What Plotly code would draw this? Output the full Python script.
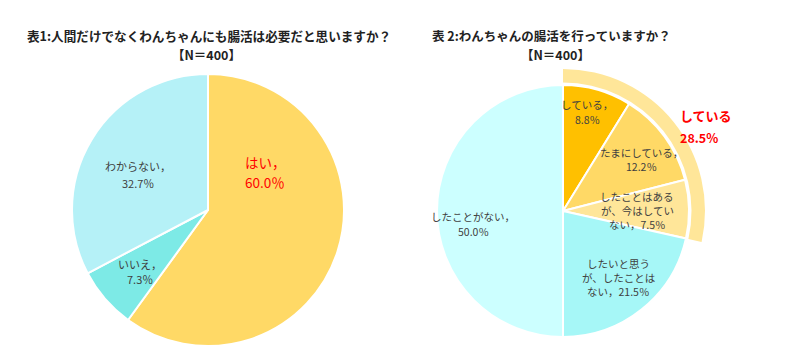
import plotly.graph_objects as go

# ---- data ----
q1_title = "表1:人間だけでなくわんちゃんにも腸活は必要だと思いますか？"
q2_title = "表 2:わんちゃんの腸活を行っていますか？"
n_label = "【N＝400】"

q1_labels = ["はい", "いいえ", "わからない"]
q1_values = [60.0, 7.3, 32.7]

q2_labels = ["している", "たまにしている", "したことはあるが、今はしていない",
             "したいと思うが、したことはない", "したことがない"]
q2_values = [8.8, 12.2, 7.5, 21.5, 50.0]

ring_label = "している"
ring_value = 28.5

# ---- styles ----
q1_colors = ["#FFD966", "#7DEAE6", "#B5F1F7"]
q2_colors = ["#FFC000", "#FFD966", "#FFE699", "#A6F7F7", "#CCFFFF"]
ring_color = "#FFE699"
txt = "#404040"
FONT = "Noto Sans CJK JP"

# page body has an 8px margin; work in window pixels and convert
OFF = 8
W, H = 792, 352


def px_dom(cx, cy, r):
    cx -= OFF
    cy -= OFF
    return dict(x=[(cx - r) / W, (cx + r) / W], y=[1 - (cy + r) / H, 1 - (cy - r) / H])


fig = go.Figure()

fig.add_trace(go.Pie(
    labels=q1_labels, values=q1_values, sort=False, direction="clockwise", rotation=0,
    marker=dict(colors=q1_colors, line=dict(color="white", width=2)),
    textinfo="none", domain=px_dom(208, 210, 136), hoverinfo="label+percent",
))

fig.add_trace(go.Pie(
    labels=[ring_label, ""], values=[ring_value, 100 - ring_value], sort=False,
    direction="clockwise", rotation=0, hole=0.905,
    marker=dict(colors=[ring_color, "rgba(0,0,0,0)"], line=dict(color="white", width=0)),
    textinfo="none", domain=px_dom(563, 211, 142), hoverinfo="skip",
))

fig.add_trace(go.Pie(
    labels=q2_labels, values=q2_values, sort=False, direction="clockwise", rotation=0,
    marker=dict(colors=q2_colors, line=dict(color="white", width=2)),
    textinfo="none", domain=px_dom(563, 211, 126), hoverinfo="label+percent",
))

ann = []


def add_lines(lines, x, y, gap, size=11, color=txt, bold=False, anchor="center"):
    n = len(lines)
    for i, s in enumerate(lines):
        yy = y + (i - (n - 1) / 2) * gap - OFF
        ann.append(dict(
            text=f"<b>{s}</b>" if bold else s, x=(x - OFF) / W, y=1 - yy / H,
            xref="paper", yref="paper",
            showarrow=False, xanchor=anchor, yanchor="middle",
            font=dict(family=FONT, size=size, color=color)))


# titles
add_lines([q1_title], 209, 35.5, 0, size=12.6, color="#222222", bold=True)
add_lines([n_label], 207, 54.5, 0, size=12.5, color="#222222", bold=True)
add_lines([q2_title], 551, 35.5, 0, size=12.5, color="#222222", bold=True)
add_lines([n_label], 555, 54.5, 0, size=12.5, color="#222222", bold=True)

# pie 1 labels
add_lines([f"{q1_labels[0]}，", f"{q1_values[0]:.1f}％"], 265, 172, 20, size=13.5, color="#FF0000")
add_lines([f"{q1_labels[2]}，", f"{q1_values[2]:.1f}％"], 138, 174, 17, size=11)
add_lines([f"{q1_labels[1]}，", f"{q1_values[1]:.1f}％"], 140, 271, 15, size=11)

# pie 2 labels
add_lines([f"{q2_labels[0]}，", f"{q2_values[0]:.1f}％"], 587, 112, 15, size=10.5)
add_lines([f"{q2_labels[1]}，", f"{q2_values[1]:.1f}％"], 641, 159, 14, size=10.5)
add_lines(["したことはある", "が、今はしてい", f"ない，{q2_values[2]:.1f}％"], 637, 210, 14, size=10.5)
add_lines(["したいと思う", "が、したことは", f"ない，{q2_values[3]:.1f}％"], 618, 277, 14, size=10.5)
add_lines([f"{q2_labels[4]}，", f"{q2_values[4]:.1f}％"], 473, 224, 15, size=10.5)

# ring label
add_lines([ring_label], 678, 115, 0, size=13, color="#FF0000", bold=True, anchor="left")
add_lines([f"{ring_value:.1f}%"], 678, 137, 0, size=12.5, color="#FF0000", bold=True, anchor="left")

fig.update_layout(
    width=W, height=H, margin=dict(l=0, r=0, t=0, b=0),
    paper_bgcolor="white", plot_bgcolor="white", showlegend=False,
    annotations=ann, font=dict(family=FONT),
)

fig.write_html("out.html")
